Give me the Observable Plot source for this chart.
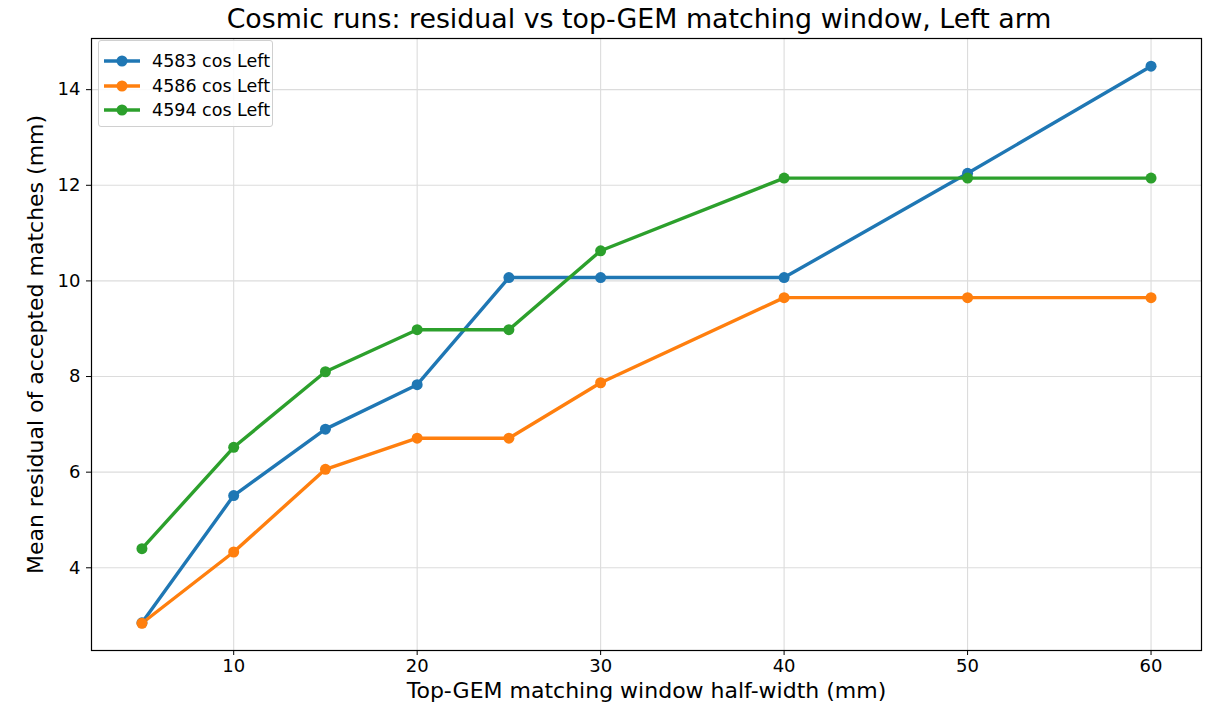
<!DOCTYPE html>
<html>
<head>
<meta charset="utf-8">
<script src="https://cdn.jsdelivr.net/npm/d3@7"></script>
<script src="https://cdn.jsdelivr.net/npm/@observablehq/plot@0.6"></script>
<style>
  html, body { margin: 0; padding: 0; background: #fff; }
  body { width: 1212px; height: 712px; position: relative; font-family: "DejaVu Sans", sans-serif; overflow: hidden; }
  #title { position: absolute; z-index: 2; left: 84px; width: 1110px; top: 4px; text-align: center; font-size: 26.8px; color: #000; line-height: 30px; white-space: nowrap; }
  #chart { position: absolute; z-index: 1; left: 0; top: 30px; }
  #legend { position: absolute; z-index: 3; left: 98px; top: 40px; width: 175px; height: 87px; border: 1px solid #d0d0d0; border-radius: 3px; background: rgba(255,255,255,0.85); box-sizing: border-box; padding-top: 8px; }
  .item { display: flex; align-items: center; height: 24.5px; font-size: 17.5px; color: #000; }
  .item svg { margin-left: 5px; margin-right: 12px; }
</style>
</head>
<body>
<div id="chart"></div>
<div id="title">Cosmic runs: residual vs top-GEM matching window, Left arm</div>
<div id="legend"></div>
<script>
const windows = [5, 10, 15, 20, 25, 30, 40, 50, 60];
const seriesNames = ["4583 cos Left", "4586 cos Left", "4594 cos Left"];
const colors = ["#1f77b4", "#ff7f0e", "#2ca02c"];
const run4583 = [2.85, 5.51, 6.90, 7.83, 10.07, 10.07, 10.07, 12.25, 14.49];
const run4586 = [2.84, 4.33, 6.06, 6.71, 6.71, 7.87, 9.65, 9.65, 9.65];
const run4594 = [4.40, 6.52, 8.10, 8.98, 8.98, 10.63, 12.15, 12.15, 12.15];
const xTicks = [10, 20, 30, 40, 50, 60];
const yTicks = [4, 6, 8, 10, 12, 14];
const xLabel = "Top-GEM matching window half-width (mm)";
const yLabel = "Mean residual of accepted matches (mm)";

const allSeries = [run4583, run4586, run4594];
const rows = [];
allSeries.forEach((vals, si) => {
  vals.forEach((v, i) => rows.push({series: seriesNames[si], x: windows[i], y: v}));
});

const chart = Plot.plot({
  width: 1212,
  height: 682,
  marginTop: 8,
  marginBottom: 62,
  marginLeft: 91,
  marginRight: 11,
  style: {fontFamily: "DejaVu Sans, sans-serif", fontSize: "18px", color: "#000", background: "transparent", overflow: "visible"},
  x: {domain: [2.25, 62.75], ticks: xTicks, label: null},
  y: {domain: [2.27, 15.07], ticks: yTicks, label: null},
  color: {domain: seriesNames, range: colors},
  marks: [
    Plot.gridX(xTicks, {stroke: "#dcdcdc", strokeOpacity: 1, strokeWidth: 1.1}),
    Plot.gridY(yTicks, {stroke: "#dcdcdc", strokeOpacity: 1, strokeWidth: 1.1}),
    Plot.axisX(xTicks, {tickSize: 5, tickPadding: 4, label: null, fontSize: 18}),
    Plot.axisY(yTicks, {tickSize: 5, tickPadding: 6, label: null, fontSize: 18}),
    Plot.line(rows, {x: "x", y: "y", z: "series", stroke: "series", strokeWidth: 3.4}),
    Plot.dot(rows, {x: "x", y: "y", fill: "series", r: 5.5}),
    Plot.frame({stroke: "#000", strokeWidth: 1.2}),
    Plot.text([xLabel], {frameAnchor: "bottom", textAnchor: "middle", dy: 47, fontSize: 22, fill: "#000"}),
    Plot.text([yLabel], {frameAnchor: "left", textAnchor: "middle", dx: -56, rotate: -90, fontSize: 22, fill: "#000"})
  ]
});
document.getElementById("chart").appendChild(chart);

const legend = d3.select("#legend");
seriesNames.forEach((name, i) => {
  const item = legend.append("div").attr("class", "item");
  const s = item.append("svg").attr("width", 36).attr("height", 14);
  s.append("line").attr("x1", 0).attr("x2", 36).attr("y1", 7).attr("y2", 7).attr("stroke", colors[i]).attr("stroke-width", 3.4);
  s.append("circle").attr("cx", 18).attr("cy", 7).attr("r", 5.5).attr("fill", colors[i]);
  item.append("span").text(name);
});
</script>
</body>
</html>
